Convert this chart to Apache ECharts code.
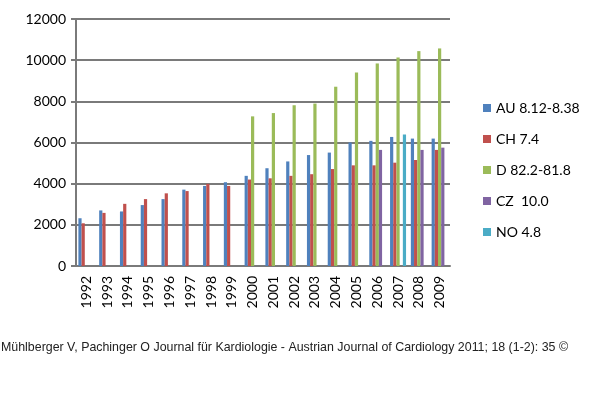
<!DOCTYPE html>
<html>
<head>
<meta charset="utf-8">
<script src="https://cdn.jsdelivr.net/npm/echarts@6/dist/echarts.min.js"></script>
<style>
  html, body { margin: 0; padding: 0; background: #fff; }
  #chart { width: 600px; height: 397px; }
</style>
</head>
<body>
<div id="chart"></div>
<script>
// data
const years = ['1992', '1993', '1994', '1995', '1996', '1997', '1998', '1999', '2000',
    '2001', '2002', '2003', '2004', '2005', '2006', '2007', '2008', '2009']
const au = [2320, 2700, 2650, 2960, 3250, 3710, 3890, 4070, 4380, 4750, 5080, 5390, 5510, 6000, 6080, 6270, 6190, 6190]
const ch = [2075, 2580, 3020, 3250, 3530, 3640, 3990, 3890, 4200, 4260, 4380, 4460, 4710, 4890, 4890, 5020, 5150, 5640]
const de = [null, null, null, null, null, null, null, null, 7270, 7430, 7810, 7890, 8710, 9400, 9840, 10130, 10440, 10570]
const cz = [null, null, null, null, null, null, null, null, null, null, null, null, null, null, 5640, null, 5640, 5750]
const no = [null, null, null, null, null, null, null, null, null, null, null, null, null, null, null, 6390, null, null]
const seriesNames = ['AU 8.12-8.38', 'CH 7.4', 'D 82.2-81.8', 'CZ  10.0', 'NO 4.8']
const colors = ['#4f81bd', '#c0504d', '#9bbb59', '#8064a2', '#4bacc6']

const chart = echarts.init(document.getElementById('chart'))

const values = [au, ch, de, cz, no]
const gray = '#7a7a7a'
const option = {
    animation: false,
    color: colors,
    grid: { left: 76, right: 150, top: 19, bottom: 131 },
    legend: {
        orient: 'vertical',
        left: 478,
        top: 96,
        itemWidth: 8,
        itemHeight: 8,
        itemGap: 17,
        icon: 'rect',
        textStyle: { fontFamily: 'Lato', fontSize: 14, color: '#000' },
        data: seriesNames,
    },
    xAxis: {
        type: 'category',
        data: years,
        axisLine: { lineStyle: { color: gray, width: 2 } },
        axisTick: { length: 5, lineStyle: { color: gray, width: 2 } },
        axisLabel: {
            rotate: 90,
            interval: 0,
            margin: 10,
            fontFamily: 'Lato',
            fontSize: 14,
            color: '#000',
        },
    },
    yAxis: {
        type: 'value',
        min: 0,
        max: 12000,
        interval: 2000,
        axisLine: { show: true, lineStyle: { color: gray, width: 2 } },
        axisTick: { show: true, length: 5, lineStyle: { color: gray, width: 2 } },
        splitLine: { lineStyle: { color: gray, width: 2 } },
        axisLabel: {
            margin: 10,
            fontFamily: 'Lato',
            fontSize: 14,
            color: '#000',
            formatter: (v) => String(v),
        },
    },
    series: seriesNames.map((name, i) => ({
        name: name,
        type: 'bar',
        data: values[i],
        barGap: '0%',
        barCategoryGap: '23%',
    })),
    graphic: [{
        type: 'text',
        left: 1,
        top: 342,
        style: {
            text: 'Mühlberger V, Pachinger O Journal für Kardiologie - Austrian Journal of Cardiology 2011; 18 (1-2): 35 ©',
            font: '12.4px "Liberation Sans", Arial, sans-serif',
            fill: '#222',
        },
    }],
}

chart.setOption(option)
</script>
</body>
</html>
